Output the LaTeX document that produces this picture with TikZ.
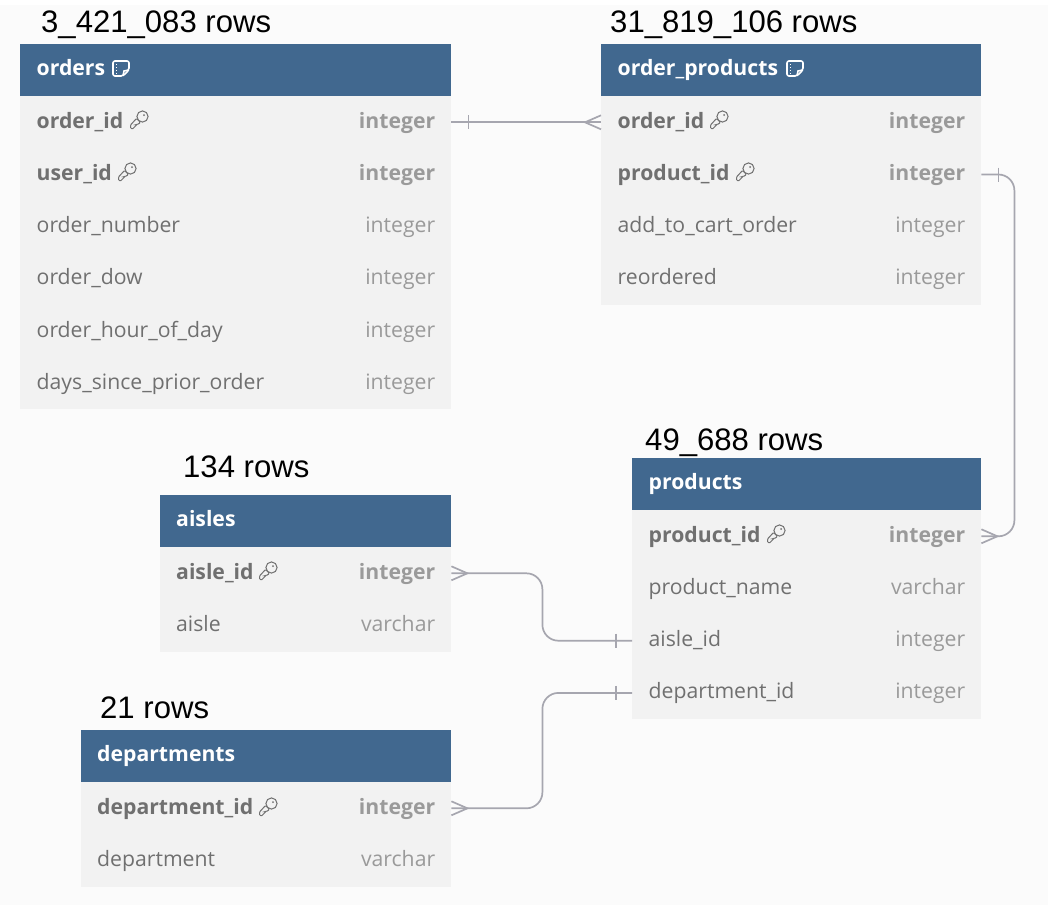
\documentclass[tikz,border=0pt]{standalone}
\usepackage{fontspec}
\setmainfont{Open Sans}
\newfontfamily\countfont{Liberation Sans}
\definecolor{headblue}{HTML}{41688F}
\definecolor{rowgray}{HTML}{F2F2F2}
\definecolor{pagegray}{HTML}{FBFBFB}
\definecolor{linegray}{HTML}{A6A6AF}
\definecolor{keygray}{HTML}{707070}
\definecolor{typegray}{HTML}{9A9A9A}
\tikzset{
    tablehead/.style={anchor=north west, fill=headblue, text=white, font=\fontsize{21.2}{24}\selectfont\bfseries, align=left, inner xsep=16.5pt, inner ysep=0pt, minimum height=52.2pt, text height=15pt, text depth=5pt, text width=#1-33pt},
    tablerow/.style={anchor=north west, fill=rowgray, text=keygray, font=\fontsize{21.2}{24}\selectfont, align=left, inner xsep=16.5pt, inner ysep=0pt, minimum height=52.2pt, text height=16pt, text depth=4pt, text width=#1-33pt},
    keyrow/.style={tablerow=#1, font=\fontsize{21.2}{24}\selectfont\bfseries},
    typename/.style={anchor=east, xshift=-16pt, text=typegray, inner sep=0pt, text height=16pt, text depth=4pt, font=\fontsize{21.2}{24}\selectfont},
    keytype/.style={typename, font=\fontsize{21.2}{24}\selectfont\bfseries},
    rowcount/.style={anchor=base west, inner sep=0pt, font=\fontsize{31.1}{36}\countfont},
    link/.style={draw=linegray, line width=1.7pt},
    keyicon/.pic={
        \draw[keygray, line width=1pt, fill=rowgray, rounded corners=1pt] (-2.5,-1.5) -- (-8.5,5) -- (-8.5,8.5) -- (-5,8.5) -- (-5,6.5) -- (-3,6.5) -- (-3,4.5) -- (-1.5,4.5) -- (1.5,2.5) -- cycle;
        \draw[keygray, line width=1pt, fill=rowgray] (3.5,-3.5) circle (5.6);
        \fill[keygray] (5,-5) circle (1);
    },
    noteicon/.pic={
        \draw[white, line width=1.6pt, rounded corners=2pt] (8,2) -- (8,-7) -- (-8,-7) -- (-8,8) -- (2,8) -- cycle;
        \draw[white, line width=1.6pt] (8,2) -- (3,3) -- (2,8);
        \draw[white, line width=1pt, dotted] (-4.5,-4) -- (-4.5,6);
    },
}
\begin{document}
\begin{tikzpicture}[x=1pt, y=-1pt]
    \useasboundingbox (0,0) rectangle (1048,908);
    \fill[white] (0,0) rectangle (1048,908);
    \fill[pagegray] (0,5) rectangle (1048,905);

    % row counts
    \node[rowcount] (orders_count) at (41,32) {3\_421\_083 rows};
    \node[rowcount] (order_products_count) at (610,32) {31\_819\_106 rows};
    \node[rowcount] (products_count) at (645,450) {49\_688 rows};
    \node[rowcount] (aisles_count) at (183,477) {134 rows};
    \node[rowcount] (departments_count) at (100,718) {21 rows};

    % orders
    \node[tablehead=431pt] (orders) at (20,44) {orders};
    \node[keyrow=431pt] (orders_order_id) at (20,96) {order\_id};
    \node[keyrow=431pt] (orders_user_id) at (20,148.2) {user\_id};
    \node[tablerow=431pt] (orders_number) at (20,200.4) {order\_number};
    \node[tablerow=431pt] (orders_dow) at (20,252.6) {order\_dow};
    \node[tablerow=431pt] (orders_hour) at (20,304.8) {order\_hour\_of\_day};
    \node[tablerow=431pt] (orders_days) at (20,357) {days\_since\_prior\_order};
    \node[keytype] (t1) at (orders_order_id.east) {integer};
    \node[keytype] (t2) at (orders_user_id.east) {integer};
    \node[typename] (t3) at (orders_number.east) {integer};
    \node[typename] (t4) at (orders_dow.east) {integer};
    \node[typename] (t5) at (orders_hour.east) {integer};
    \node[typename] (t6) at (orders_days.east) {integer};

    % order_products
    \node[tablehead=380pt] (order_products) at (601,44) {order\_products};
    \node[keyrow=380pt] (op_order_id) at (601,96) {order\_id};
    \node[keyrow=380pt] (op_product_id) at (601,148.2) {product\_id};
    \node[tablerow=380pt] (op_cart) at (601,200.4) {add\_to\_cart\_order};
    \node[tablerow=380pt] (op_reordered) at (601,252.6) {reordered};
    \node[keytype] (t7) at (op_order_id.east) {integer};
    \node[keytype] (t8) at (op_product_id.east) {integer};
    \node[typename] (t9) at (op_cart.east) {integer};
    \node[typename] (t10) at (op_reordered.east) {integer};

    % products
    \node[tablehead=349pt] (products) at (632,458) {products};
    \node[keyrow=349pt] (p_product_id) at (632,510) {product\_id};
    \node[tablerow=349pt] (p_name) at (632,562.2) {product\_name};
    \node[tablerow=349pt] (p_aisle_id) at (632,614.4) {aisle\_id};
    \node[tablerow=349pt] (p_department_id) at (632,666.6) {department\_id};
    \node[keytype] (t11) at (p_product_id.east) {integer};
    \node[typename] (t12) at (p_name.east) {varchar};
    \node[typename] (t13) at (p_aisle_id.east) {integer};
    \node[typename] (t14) at (p_department_id.east) {integer};

    % aisles
    \node[tablehead=291.5pt] (aisles) at (159.5,495) {aisles};
    \node[keyrow=291.5pt] (a_aisle_id) at (159.5,547) {aisle\_id};
    \node[tablerow=291.5pt] (a_aisle) at (159.5,599.2) {aisle};
    \node[keytype] (t15) at (a_aisle_id.east) {integer};
    \node[typename] (t16) at (a_aisle.east) {varchar};

    % departments
    \node[tablehead=370.5pt] (departments) at (80.5,730) {departments};
    \node[keyrow=370.5pt] (d_department_id) at (80.5,782) {department\_id};
    \node[tablerow=370.5pt] (d_department) at (80.5,834.2) {department};
    \node[keytype] (t17) at (d_department_id.east) {integer};
    \node[typename] (t18) at (d_department.east) {varchar};

    % icons
    \pic at (121,68) {noteicon};
    \pic at (795,68) {noteicon};
    \pic at (139,120) {keyicon};
    \pic at (127,172) {keyicon};
    \pic at (719,120) {keyicon};
    \pic at (745,172) {keyicon};
    \pic at (776,534) {keyicon};
    \pic at (268,571) {keyicon};
    \pic at (268,807) {keyicon};

    % connectors
    \draw[link] (orders_order_id.east) -- (op_order_id.west);
    \draw[link] (orders_order_id.east) ++(17,-7) -- ++(0,14);
    \draw[link] (op_order_id.west) ++(0,-7) -- ++(-16,7) -- ++(16,7);

    \draw[link, rounded corners=16pt] (op_product_id.east) -- ++(33,0) |- (p_product_id.east);
    \draw[link] (op_product_id.east) ++(17,-7) -- ++(0,14);
    \draw[link] (p_product_id.east) ++(0,-7) -- ++(16,7) -- ++(-16,7);

    \draw[link, rounded corners=16pt] (a_aisle_id.east) -- ++(91,0) |- (p_aisle_id.west);
    \draw[link] (a_aisle_id.east) ++(0,-7) -- ++(16,7) -- ++(-16,7);
    \draw[link] (p_aisle_id.west) ++(-16,-7) -- ++(0,14);

    \draw[link, rounded corners=16pt] (d_department_id.east) -- ++(91,0) |- (p_department_id.west);
    \draw[link] (d_department_id.east) ++(0,-7) -- ++(16,7) -- ++(-16,7);
    \draw[link] (p_department_id.west) ++(-16,-7) -- ++(0,14);
\end{tikzpicture}
\end{document}
